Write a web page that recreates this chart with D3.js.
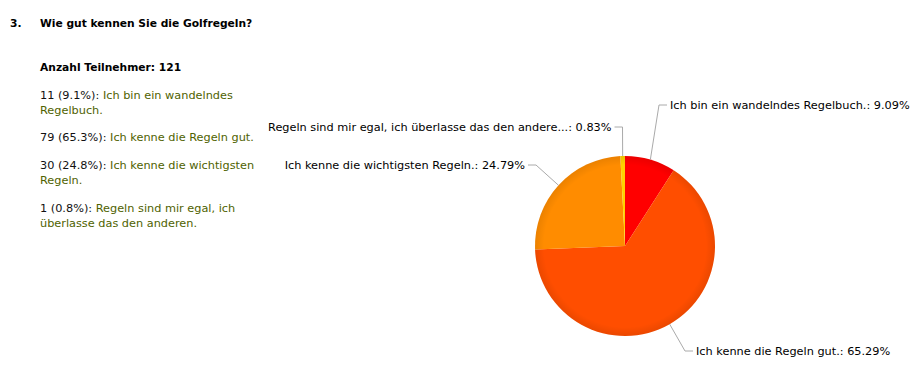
<!DOCTYPE html>
<html>
<head>
<meta charset="utf-8">
<script src="https://cdn.jsdelivr.net/npm/d3@7"></script>
<style>
  html, body { margin: 0; padding: 0; background: #fff; }
  svg { display: block; }
  text { font-family: "DejaVu Sans", Verdana, sans-serif; }
</style>
</head>
<body>
<svg id="chart" width="921" height="386"></svg>
<script>
// ---- data ----
const questionNumber = "3.";
const questionTitle = "Wie gut kennen Sie die Golfregeln?";
const participantsLabel = "Anzahl Teilnehmer: 121";
const categories = [
  "Ich bin ein wandelndes Regelbuch.",
  "Ich kenne die Regeln gut.",
  "Ich kenne die wichtigsten Regeln.",
  "Regeln sind mir egal, ich überlasse das den anderen."
];
const counts = [11, 79, 30, 1];
const shortPercents = ["9.1%", "65.3%", "24.8%", "0.8%"];
const pieLabels = [
  "Ich bin ein wandelndes Regelbuch.: 9.09%",
  "Ich kenne die Regeln gut.: 65.29%",
  "Ich kenne die wichtigsten Regeln.: 24.79%",
  "Regeln sind mir egal, ich überlasse das den andere...: 0.83%"
];
// wrapped answer text for the left-hand list
const answerLines = [
  ["Ich bin ein wandelndes", "Regelbuch."],
  ["Ich kenne die Regeln gut."],
  ["Ich kenne die wichtigsten", "Regeln."],
  ["Regeln sind mir egal, ich", "überlasse das den anderen."]
];
const colors = ["#ff0000", "#ff4e00", "#ff8c00", "#ffd200"];

// ---- layout ----
const svg = d3.select("#chart");
const fs = 11.3;
const fsBold = 10.7;

svg.append("text").attr("x", 10).attr("y", 27).attr("font-size", fsBold).attr("font-weight", "bold")
  .attr("fill", "#000").text(questionNumber);
svg.append("text").attr("x", 40).attr("y", 27).attr("font-size", fsBold).attr("font-weight", "bold")
  .attr("fill", "#000").text(questionTitle);
svg.append("text").attr("x", 40).attr("y", 71).attr("font-size", fsBold).attr("font-weight", "bold")
  .attr("fill", "#000").text(participantsLabel);

// left list
const blockTops = [99, 141, 169, 212];
const lineH = 14.5;
categories.forEach((c, i) => {
  answerLines[i].forEach((ln, j) => {
    const t = svg.append("text").attr("x", 40).attr("y", blockTops[i] + j * lineH).attr("font-size", fs);
    if (j === 0) {
      t.append("tspan").attr("fill", "#111").text(counts[i] + " (" + shortPercents[i] + "): ");
    }
    t.append("tspan").attr("fill", "#4f6200").text(ln);
  });
});

// pie
const cx = 625, cy = 246, r = 90;
const pie = d3.pie().sort(null).startAngle(0).endAngle(2 * Math.PI)(counts);
const arc = d3.arc().innerRadius(0).outerRadius(r);
const g = svg.append("g").attr("transform", `translate(${cx},${cy})`);
g.selectAll("path").data(pie).join("path")
  .attr("d", arc)
  .attr("fill", (d, i) => colors[i]);

// subtle rim shading like the original
const defs = svg.append("defs");
const grad = defs.append("radialGradient").attr("id", "rim");
grad.append("stop").attr("offset", "0.9").attr("stop-color", "#000").attr("stop-opacity", 0);
grad.append("stop").attr("offset", "1").attr("stop-color", "#000").attr("stop-opacity", 0.08);
g.append("circle").attr("r", r).attr("fill", "url(#rim)");

// labels with leader lines: elbow offsets relative to the pie centre
const elbows = [
  { dx: 34, dy: -141, side: 1 },
  { dx: 60, dy: 105, side: 1 },
  { dx: -89, dy: -81, side: -1 },
  { dx: -2.5, dy: -119, side: -1 }
];
const lbl = svg.append("g").attr("transform", `translate(${cx},${cy})`);
pie.forEach((d, i) => {
  const a = (d.startAngle + d.endAngle) / 2;
  const p0 = [Math.sin(a) * r, -Math.cos(a) * r];
  const e = elbows[i];
  const p1 = [e.dx, e.dy];
  const p2 = [e.dx + e.side * 8, e.dy];
  lbl.append("polyline")
    .attr("points", [p0, p1, p2].map(p => p.join(",")).join(" "))
    .attr("fill", "none").attr("stroke", "#aaa").attr("stroke-width", 1);
  lbl.append("text")
    .attr("x", p2[0] + e.side * 3).attr("y", e.dy + 4)
    .attr("text-anchor", e.side > 0 ? "start" : "end")
    .attr("font-size", fs).attr("fill", "#000")
    .text(pieLabels[i]);
});
</script>
</body>
</html>
